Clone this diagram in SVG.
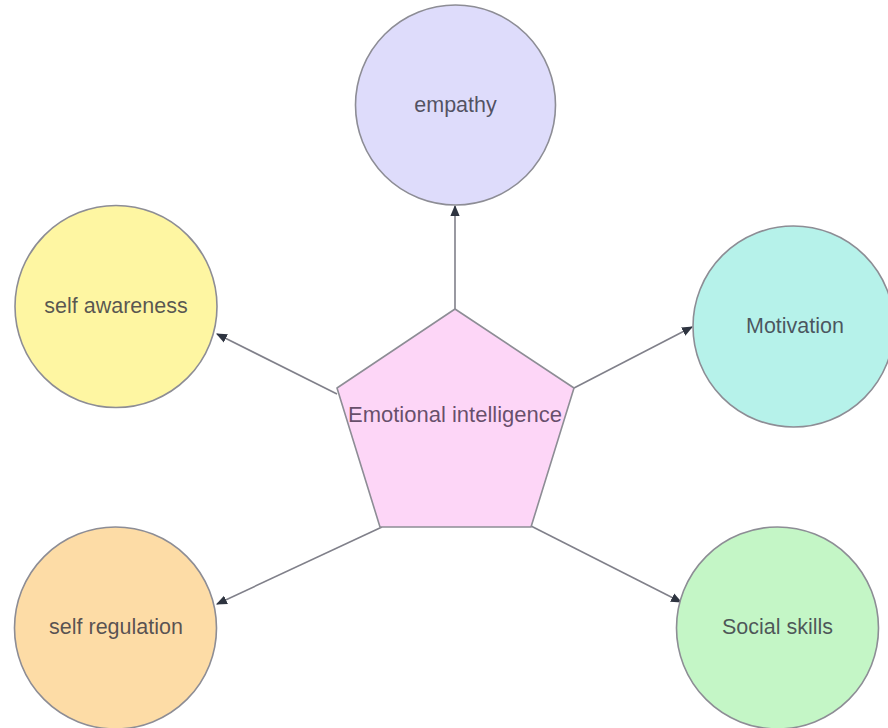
<svg xmlns="http://www.w3.org/2000/svg" width="888" height="728" viewBox="0 0 888 728">
  <style>
    .node { stroke: #8d8d95; stroke-width: 1.6; }
    .lbl { font-family: "Liberation Sans", Arial, sans-serif; font-size: 21.5px; text-anchor: middle; fill: #33333f; fill-opacity: 0.82; }
    .conn { stroke: #80808a; stroke-width: 1.6; fill: none; marker-end: url(#arr); }
  </style>
  <defs>
    <marker id="arr" viewBox="0 0 10 10" refX="9" refY="5" markerWidth="11" markerHeight="11" markerUnits="userSpaceOnUse" orient="auto">
      <path d="M0,0.8 L10,5 L0,9.2 z" fill="#2e3440"/>
    </marker>
  </defs>
  <rect width="888" height="728" fill="#ffffff"/>
  <g id="connectors">
    <line class="conn" x1="455" y1="309" x2="455" y2="206"/>
    <line class="conn" x1="337" y1="394" x2="217" y2="334"/>
    <line class="conn" x1="574" y1="388" x2="692" y2="327"/>
    <line class="conn" x1="382" y1="527" x2="217" y2="604"/>
    <line class="conn" x1="531" y1="526" x2="681" y2="602"/>
  </g>
  <g id="empathy">
    <circle class="node" cx="455.5" cy="105" r="100" fill="#dedcfb"/>
    <text class="lbl" x="455.5" y="112">empathy</text>
  </g>
  <g id="self-awareness">
    <circle class="node" cx="116" cy="306.5" r="101" fill="#fef6a2"/>
    <text class="lbl" x="116" y="313">self awareness</text>
  </g>
  <g id="motivation">
    <circle class="node" cx="793.5" cy="326.5" r="100.5" fill="#b6f2ea"/>
    <text class="lbl" x="795" y="333">Motivation</text>
  </g>
  <g id="self-regulation">
    <circle class="node" cx="115.5" cy="628" r="101" fill="#fddca6"/>
    <text class="lbl" x="116" y="634">self regulation</text>
  </g>
  <g id="social-skills">
    <circle class="node" cx="777.5" cy="628" r="101" fill="#c4f6c6"/>
    <text class="lbl" x="777.5" y="634">Social skills</text>
  </g>
  <g id="emotional-intelligence">
    <polygon class="node" points="455,309 574,388 531,527 380,527 337,388" fill="#fdd6f7" stroke-linejoin="round"/>
    <text class="lbl" x="455" y="422" style="font-size:22px; fill:#45304b;">Emotional intelligence</text>
  </g>
</svg>
